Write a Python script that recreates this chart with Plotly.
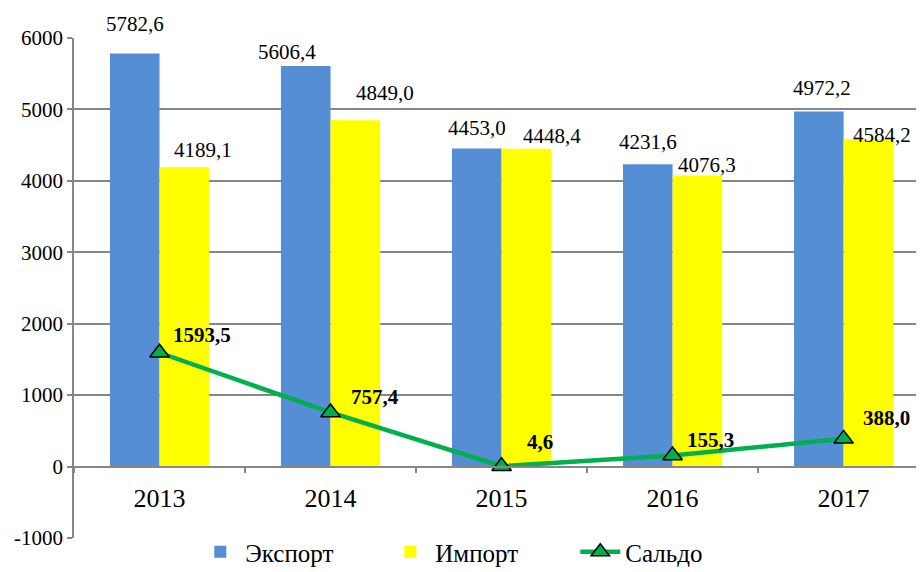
import plotly.graph_objects as go

years = ["2013", "2014", "2015", "2016", "2017"]
export_vals = [5782.6, 5606.4, 4453.0, 4231.6, 4972.2]
import_vals = [4189.1, 4849.0, 4448.4, 4076.3, 4584.2]
saldo_vals = [1593.5, 757.4, 4.6, 155.3, 388.0]
y_ticks = [-1000, 0, 1000, 2000, 3000, 4000, 5000, 6000]

# label offsets (px) relative to category centre / value position (style only)
exp_dx = [-25, -44, -25, -25, -22]
exp_dy = [30, 14, 21, 22, 23]
imp_dx = [43, 54, 50, 34, 38]
imp_dy = [17, 27, 13, 10, 4]
sal_dx = [42, 44, 38, 38, 43]
sal_dy = [18, 15, 24, 15, 21]

GRID = "#878787"
SERIF = "Liberation Serif"

def fmt(v):
    return f"{v:.1f}".replace(".", ",")

fig = go.Figure()
fig.add_trace(go.Bar(x=years, y=export_vals, name="Экспорт",
                     marker=dict(color="#558ED5", line=dict(width=0))))
fig.add_trace(go.Bar(x=years, y=import_vals, name="Импорт",
                     marker=dict(color="#FFFF00", line=dict(width=0))))
fig.add_trace(go.Scatter(x=years, y=saldo_vals, name="Сальдо", mode="lines+markers",
                         line=dict(color="#00B050", width=4.5),
                         marker=dict(symbol="triangle-up", size=17, color="#00B050",
                                     line=dict(color="black", width=1.5))))
# invisible trace carrying the category axis drawn at y = 0
fig.add_trace(go.Scatter(x=years, y=saldo_vals, xaxis="x2", mode="markers",
                         marker=dict(opacity=0), showlegend=False, hoverinfo="skip"))

lab_font = dict(family=SERIF, size=21, color="black")
for i, y in enumerate(years):
    fig.add_annotation(x=i, y=export_vals[i], text=fmt(export_vals[i]), showarrow=False,
                       xshift=exp_dx[i], yshift=exp_dy[i], font=lab_font)
    fig.add_annotation(x=i, y=import_vals[i], text=fmt(import_vals[i]), showarrow=False,
                       xshift=imp_dx[i], yshift=imp_dy[i], font=lab_font)
    fig.add_annotation(x=i, y=saldo_vals[i], text="<b>" + fmt(saldo_vals[i]) + "</b>",
                       showarrow=False, xshift=sal_dx[i], yshift=sal_dy[i], font=lab_font)

fig.update_layout(
    width=916, height=564,
    margin=dict(l=66, r=0, t=30, b=34, autoexpand=False),
    paper_bgcolor="white", plot_bgcolor="white",
    barmode="group", bargap=0.42, bargroupgap=0,
    font=dict(family=SERIF, size=21, color="black"),
    showlegend=True,
    legend=dict(orientation="h", x=0.478, xanchor="center", y=-0.028, yanchor="middle",
                font=dict(family=SERIF, size=25, color="black"), entrywidth=135,
                itemwidth=40, bgcolor="rgba(0,0,0,0)"),
    xaxis=dict(type="category", range=[-0.5, 4.47], showticklabels=False, ticks="",
               showline=False, showgrid=False, zeroline=False),
    xaxis2=dict(type="category", matches="x", overlaying="x", anchor="free", position=1/7,
                showline=True, linecolor=GRID, linewidth=1.5,
                ticks="outside", tickson="boundaries", ticklen=6, tickcolor=GRID, tickwidth=1.5,
                ticklabelstandoff=8,
                showgrid=False, zeroline=False, tickfont=dict(family=SERIF, size=26, color="black")),
    yaxis=dict(range=[-1000, 6000], tickvals=y_ticks, ticktext=[str(v) for v in y_ticks],
               showgrid=True, gridcolor=GRID, gridwidth=1.5,
               zeroline=False, showline=True, linecolor=GRID, linewidth=1.5,
               ticks="outside", ticklen=5, tickcolor=GRID, tickwidth=1.5,
               tickfont=dict(family=SERIF, size=21, color="black")),
)

fig.write_html("out.html")
